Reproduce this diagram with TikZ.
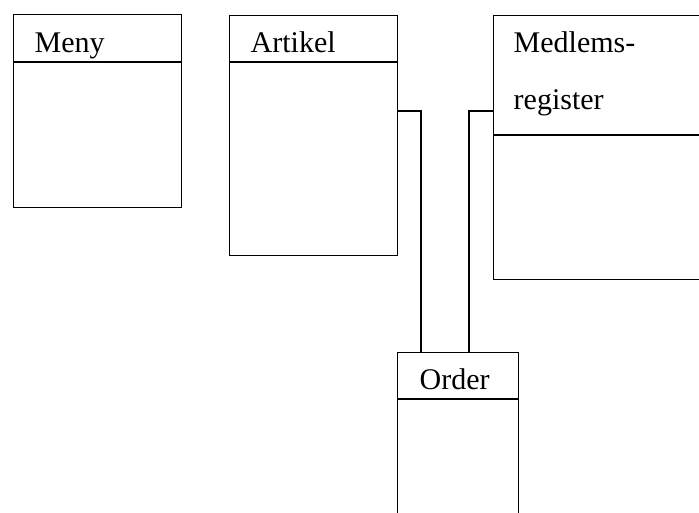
\documentclass[tikz,border=0pt]{standalone}
\usepackage{fontspec}
\setmainfont{Liberation Serif}
\begin{document}
\begin{tikzpicture}[x=1pt,y=1pt,
  line width=1.4pt,
  entity/.style={draw=black, rectangle, inner sep=0pt, anchor=north west},
  title/.style={anchor=base west, inner sep=0pt, font=\fontsize{30}{57}\selectfont},
  link/.style={draw=black, line width=1.4pt}]
\path[use as bounding box, clip] (0,0) rectangle (699,513);
\fill[white] (0,0) rectangle (699,513);

% class boxes (top-left corner, size)
\node[entity, minimum width=168pt, minimum height=193pt] (meny) at (13,499) {};
\node[entity, minimum width=168pt, minimum height=240pt] (art)  at (229,498) {};
\node[entity, minimum width=220pt, minimum height=264pt] (med)  at (493,498) {};
\node[entity, minimum width=121pt, minimum height=180pt] (ord)  at (397,161) {};

% header separators
\draw (meny.west |- 0,451) -- (meny.east |- 0,451);
\draw (art.west |- 0,451) -- (art.east |- 0,451);
\draw (med.west |- 0,378) -- (med.east |- 0,378);
\draw (ord.west |- 0,114) -- (ord.east |- 0,114);

% titles (base anchor = baseline of the last line)
\node[title] (tmeny) at (34,460) {Meny};
\node[title] (tart)  at (250,460) {Artikel};
\node[title, align=left] (tmed) at (513,403) {Medlems-\\register};
\node[title] (tord)  at (419,123) {Order};

% associations
\draw[link] ([yshift=-96pt]art.north east) -| ([xshift=24pt]ord.north west);
\draw[link] ([yshift=-96pt]med.north west) -| ([xshift=72pt]ord.north west);
\end{tikzpicture}
\end{document}
